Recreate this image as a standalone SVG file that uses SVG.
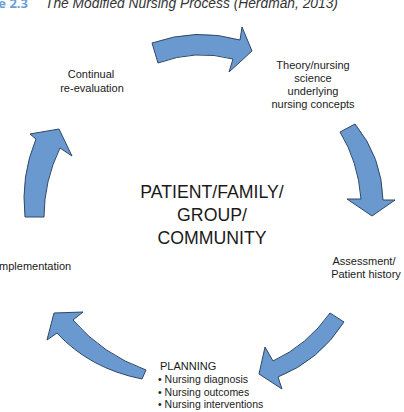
<svg xmlns="http://www.w3.org/2000/svg" width="404" height="412" viewBox="0 0 404 412">
<style>
.arrow{fill:#6a99cf;stroke:#2f4866;stroke-width:1;stroke-linejoin:miter}
.lbl{font-family:"Liberation Sans",Arial,sans-serif;font-size:11px;fill:#1a1a1a}
.ctr{text-anchor:middle}
.big{font-family:"Liberation Sans",Arial,sans-serif;font-size:17.7px;fill:#1a1a1a;text-anchor:middle}
.small{font-family:"Liberation Sans",Arial,sans-serif;font-size:10.5px;fill:#1a1a1a}
</style>
<rect width="404" height="412" fill="#ffffff"/>
<g id="title">
<text x="28" y="8" font-family="'Open Sans','Liberation Sans',sans-serif" font-size="13" font-weight="bold" fill="#6a9fd6" text-anchor="end">e 2.3</text>
<text x="45" y="8" font-family="'Liberation Sans',Arial,sans-serif" font-size="13.8" font-style="italic" fill="#333333">The Modified Nursing Process (Herdman, 2013)</text>
</g>
<g id="connectors">
<path class="arrow" d="M152,43 Q196,27.5 240,40 L242,27 L252,51 L229,72 L233,59 Q195.5,49 158,63 Z"/>
<path class="arrow" d="M340,132 L355,124 Q382,157 383,200 L395,200 L372,216 L347,199 L361,199 Q358,161 340,132 Z"/>
<path class="arrow" d="M330,313 L344,322 Q319.5,360.5 278,377 L282,389 L259,374 L265,347 L273,361 Q307.5,345 330,313 Z"/>
<path class="arrow" d="M146,370 L142,379 Q89.5,368.5 57,333 L47,340 L54,313 L83,312 L73,320 Q102.6,354.4 146,370 Z"/>
<path class="arrow" d="M25,217 L44,217 Q44,181 60,148 L72,156 L59,129 L30,134 L36,139 Q20.5,176 25,217 Z"/>
</g>
<g id="node-theory">
<text class="lbl ctr" x="313" y="69">Theory/nursing</text>
<text class="lbl ctr" x="313" y="82">science</text>
<text class="lbl ctr" x="313" y="95">underlying</text>
<text class="lbl ctr" x="313" y="108">nursing concepts</text>
</g>
<g id="node-assessment">
<text class="lbl ctr" x="364" y="265">Assessment/</text>
<text class="lbl ctr" x="366" y="278">Patient history</text>
</g>
<g id="node-planning">
<text class="lbl" x="160" y="370" font-size="12">PLANNING</text>
<text class="small" x="158" y="383">• Nursing diagnosis</text>
<text class="small" x="158" y="396">• Nursing outcomes</text>
<text class="small" x="158" y="408">• Nursing interventions</text>
</g>
<g id="node-implementation">
<text class="lbl" x="-4" y="270" font-size="12">Implementation</text>
</g>
<g id="node-reevaluation">
<text class="lbl ctr" x="91" y="78">Continual</text>
<text class="lbl ctr" x="92" y="92">re-evaluation</text>
</g>
<g id="node-center">
<text class="big" x="212" y="198">PATIENT/FAMILY/</text>
<text class="big" x="212" y="221">GROUP/</text>
<text class="big" x="212" y="244">COMMUNITY</text>
</g>
</svg>
